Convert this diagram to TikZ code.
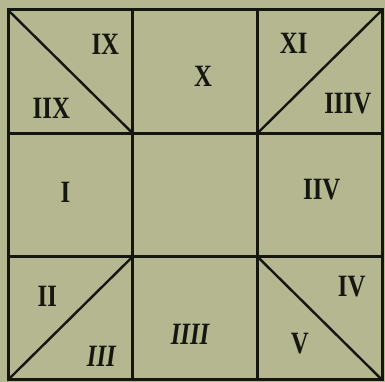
\documentclass[tikz,border=0pt]{standalone}
\usepackage{fontspec}
\setmainfont{Liberation Serif}
\newfontfamily\oldnum[FakeStretch=0.8]{Liberation Serif}
\usepackage{tikz}
\usetikzlibrary{positioning}
\definecolor{PaperOlive}{RGB}{181,183,144}
\definecolor{InkDark}{RGB}{22,22,16}

\begin{document}
\begin{tikzpicture}[
  cell/.style={draw=InkDark,line width=3pt,minimum width=124.7pt,minimum height=123.3pt,inner sep=0pt,outer sep=0pt},
  diag/.style={draw=InkDark,line width=2.4pt},
  num/.style={font=\oldnum\fontsize{31}{34}\selectfont\bfseries,text=InkDark,inner sep=1pt},
  numit/.style={font=\oldnum\fontsize{31}{34}\selectfont\bfseries\itshape,text=InkDark,inner sep=1pt},
]
\fill[PaperOlive] (0,0) rectangle (385pt,382pt);
% grid of nine cells
\node[cell,anchor=north west] (c11) at (8pt,372pt) {};
\node[cell,right=0pt of c11] (c12) {};
\node[cell,right=0pt of c12] (c13) {};
\node[cell,below=0pt of c11] (c21) {};
\node[cell,right=0pt of c21] (c22) {};
\node[cell,right=0pt of c22] (c23) {};
\node[cell,below=0pt of c21] (c31) {};
\node[cell,right=0pt of c31] (c32) {};
\node[cell,right=0pt of c32] (c33) {};
% corner diagonals
\draw[diag] (c11.north west) -- (c11.south east);
\draw[diag] (c13.south west) -- (c13.north east);
\draw[diag] (c31.south west) -- (c31.north east);
\draw[diag] (c33.north west) -- (c33.south east);
% numbers
\node[num,xshift=35pt,yshift=27pt] (n9) at (c11.center) {IX};
\node[num,xshift=-19pt,yshift=-37pt] (n8) at (c11.center) {IIX};
\node[num,xshift=8pt,yshift=-5pt] (n10) at (c12.center) {X};
\node[num,xshift=-26pt,yshift=28pt] (n11) at (c13.center) {XI};
\node[num,xshift=28pt,yshift=-32pt] (n13) at (c13.center) {IIIV};
\node[num,xshift=-5pt,yshift=3pt] (n1) at (c21.center) {I};
\node[num,xshift=2pt,yshift=5pt] (n12) at (c23.center) {IIV};
\node[num,xshift=-23pt,yshift=22pt] (n2) at (c31.center) {II};
\node[numit,xshift=31pt,yshift=-38pt] (n3) at (c31.center) {III};
\node[numit,xshift=-5pt,yshift=-16pt] (n4) at (c32.center) {IIII};
\node[num,xshift=32pt,yshift=32pt] (n14) at (c33.center) {IV};
\node[num,xshift=-20pt,yshift=-25pt] (n5) at (c33.center) {V};
\end{tikzpicture}
\end{document}
